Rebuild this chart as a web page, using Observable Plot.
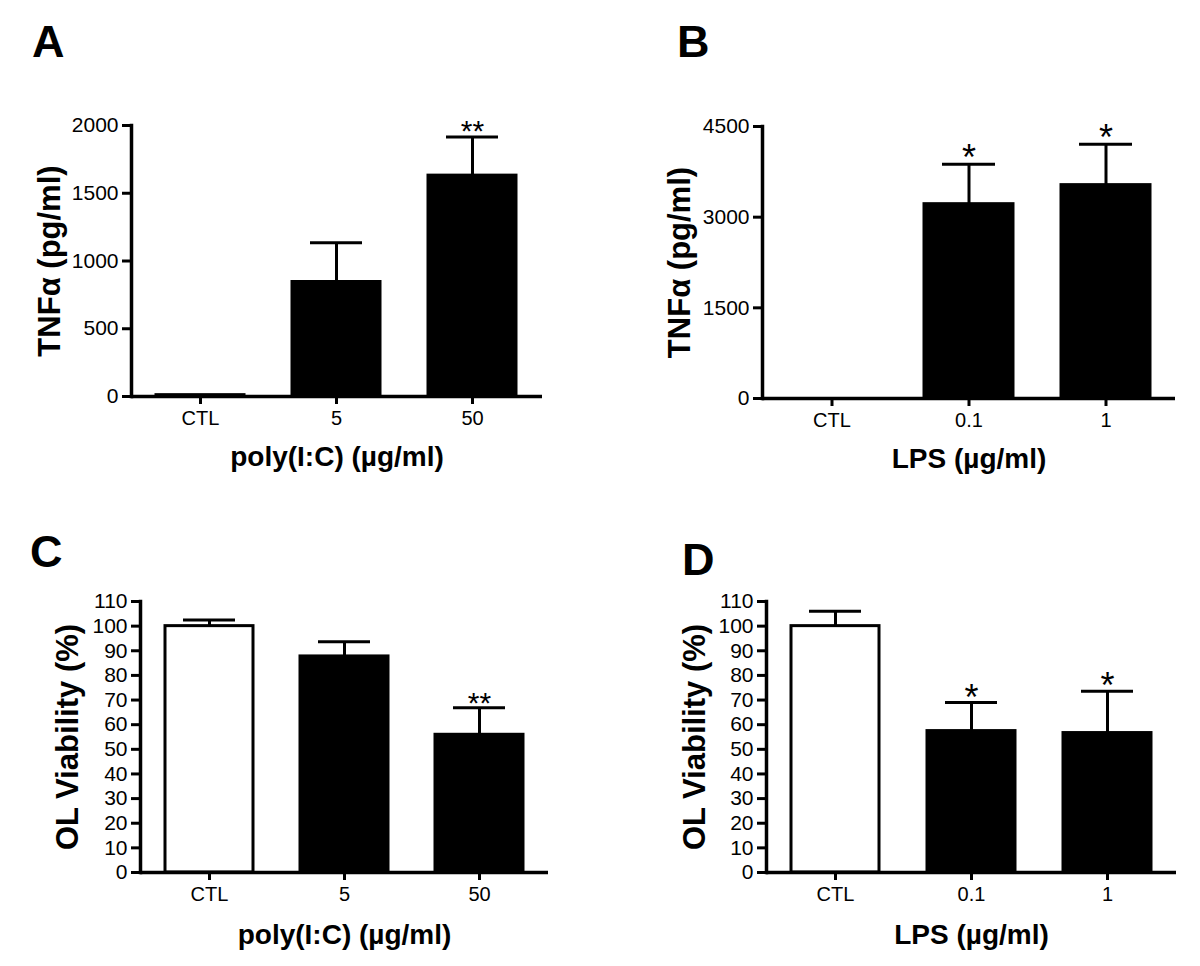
<!DOCTYPE html>
<html><head><meta charset="utf-8">
<script src="https://cdn.jsdelivr.net/npm/d3@7"></script>
<script src="https://cdn.jsdelivr.net/npm/@observablehq/plot@0.6"></script>
<style>
body{margin:0;background:#fff;}
#wrap{position:relative;width:1200px;height:966px;font-family:Arial,"Liberation Sans",sans-serif;color:#000;overflow:hidden;}
.panel{position:absolute;}
.letter{position:absolute;font-weight:bold;font-size:45px;line-height:45px;font-family:Arial,"Liberation Sans",sans-serif;}
</style></head><body><div id="wrap"></div>
<script>
// ---- data ----
const categoriesPoly = ["CTL", "5", "50"];
const categoriesLPS = ["CTL", "0.1", "1"];

const tnfPolyMean = [10, 845, 1630];
const tnfPolyErr = [0, 290, 285];
const tnfPolySig = ["", "", "**"];

const tnfLpsMean = [0, 3215, 3530];
const tnfLpsErr = [0, 660, 675];
const tnfLpsSig = ["", "*", "*"];

const viabPolyMean = [100, 87.7, 55.9];
const viabPolyErr = [2.5, 6, 11];
const viabPolySig = ["", "", "**"];

const viabLpsMean = [100, 57.4, 56.6];
const viabLpsErr = [6, 11.6, 17];
const viabLpsSig = ["", "*", "*"];

const tnfPolyTicks = [0, 500, 1000, 1500, 2000];
const tnfLpsTicks = [0, 1500, 3000, 4500];
const viabTicks = [0, 10, 20, 30, 40, 50, 60, 70, 80, 90, 100, 110];

const tnfFills = ["black", "black", "black"];
const viabFills = ["white", "black", "black"];

const FONT = 'Arial, "Liberation Sans", sans-serif';

function panel(o) {
  const data = o.cats.map((c, i) => ({cat: c, mean: o.mean[i], hi: o.mean[i] + o.err[i], sig: o.sig[i], fill: o.fills[i]}));
  const withErr = data.filter(d => d.hi > d.mean);
  const withSig = data.filter(d => d.sig);
  const svg = Plot.plot({
    width: o.width, height: o.height,
    marginLeft: o.m[0], marginRight: o.m[1], marginTop: o.m[2], marginBottom: o.m[3],
    style: {fontFamily: FONT, color: "#000", background: "transparent", overflow: "visible"},
    x: {type: "band", domain: o.cats, paddingInner: 0.35, paddingOuter: 0.18, axis: null},
    y: {domain: [o.ticks[0], o.ticks[o.ticks.length - 1]], axis: null},
    color: {type: "identity"},
    marks: [
      Plot.barY(data, {x: "cat", y: "mean", fill: "fill", stroke: "#000", strokeWidth: 3}),
      Plot.ruleX(withErr, {x: "cat", y1: "mean", y2: "hi", stroke: "#000", strokeWidth: 3}),
      Plot.tickY(withErr, {x: "cat", y: "hi", stroke: "#000", strokeWidth: 3, insetLeft: 18, insetRight: 18}),
      Plot.text(withSig, {x: "cat", y: "hi", text: "sig", lineAnchor: "bottom", dy: o.starDy, fontSize: o.starSize, fontWeight: "normal", fill: "#000"}),
      Plot.axisY({ticks: o.ticks, tickSize: 9, tickPadding: 4, fontSize: 21, strokeWidth: 3, label: null, tickFormat: d => String(d)}),
      Plot.axisX({tickSize: 8, tickPadding: 6, fontSize: 20, strokeWidth: 3, label: null}),
      Plot.ruleY([o.ticks[0]], {stroke: "#000", strokeWidth: 3.5}),
      Plot.frame({anchor: "left", stroke: "#000", strokeWidth: 3.5}),
      Plot.text([o.yTitle], {frameAnchor: "left", dx: -o.yTitleOffset, rotate: -90, lineAnchor: "middle", textAnchor: "middle", fontSize: 31, fontWeight: "bold", fill: "#000"}),
      Plot.text([o.xTitle], {frameAnchor: "bottom", dy: o.xTitleOffset, lineAnchor: "bottom", textAnchor: "middle", fontSize: 28, fontWeight: "bold", fill: "#000"})
    ]
  });
  const div = document.createElement("div");
  div.className = "panel";
  div.style.left = o.left + "px";
  div.style.top = o.top + "px";
  div.appendChild(svg);
  document.getElementById("wrap").appendChild(div);
  const L = document.createElement("div");
  L.className = "letter";
  L.textContent = o.letter;
  L.style.left = o.letterPos[0] + "px";
  L.style.top = o.letterPos[1] + "px";
  document.getElementById("wrap").appendChild(L);
}

panel({letter: "A", letterPos: [32, 19], left: 0, top: 0, width: 600, height: 480, m: [131, 58, 125, 84],
  cats: categoriesPoly, mean: tnfPolyMean, err: tnfPolyErr, sig: tnfPolySig, fills: tnfFills, ticks: tnfPolyTicks,
  yTitle: "TNFα (pg/ml)", xTitle: "poly(I:C) (µg/ml)", yTitleOffset: 81, xTitleOffset: 69,
  starSize: 30, starDy: 4});

panel({letter: "B", letterPos: [677, 19], left: 600, top: 0, width: 600, height: 480, m: [162, 25, 126, 82],
  cats: categoriesLPS, mean: tnfLpsMean, err: tnfLpsErr, sig: tnfLpsSig, fills: tnfFills, ticks: tnfLpsTicks,
  yTitle: "TNFα (pg/ml)", xTitle: "LPS (µg/ml)", yTitleOffset: 82, xTitleOffset: 69,
  starSize: 36, starDy: 6});

panel({letter: "C", letterPos: [30, 529], left: 0, top: 480, width: 600, height: 486, m: [140, 52, 121, 94],
  cats: categoriesPoly, mean: viabPolyMean, err: viabPolyErr, sig: viabPolySig, fills: viabFills, ticks: viabTicks,
  yTitle: "OL Viability (%)", xTitle: "poly(I:C) (µg/ml)", yTitleOffset: 72, xTitleOffset: 71,
  starSize: 30, starDy: 5});

panel({letter: "D", letterPos: [682, 537], left: 600, top: 480, width: 600, height: 486, m: [166, 24, 121, 94],
  cats: categoriesLPS, mean: viabLpsMean, err: viabLpsErr, sig: viabLpsSig, fills: viabFills, ticks: viabTicks,
  yTitle: "OL Viability (%)", xTitle: "LPS (µg/ml)", yTitleOffset: 71, xTitleOffset: 71,
  starSize: 36, starDy: 7});
</script>
</body></html>
